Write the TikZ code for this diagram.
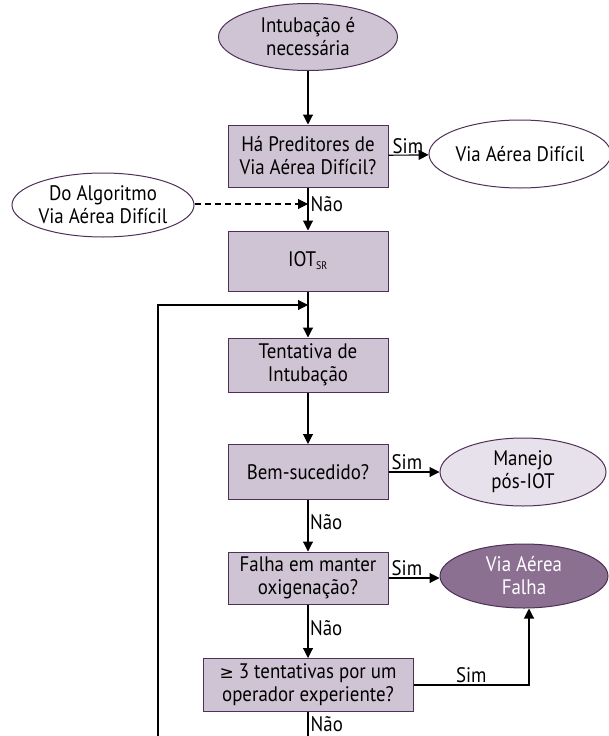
\documentclass[tikz,border=0pt]{standalone}
\usepackage{fontspec}
\setmainfont{PT Sans}[FakeStretch=0.9]
\newfontfamily\symfont{DejaVu Sans}
\usetikzlibrary{arrows.meta,shapes.geometric}
\definecolor{boxfill}{RGB}{207,196,212}
\definecolor{boxline}{RGB}{78,48,88}
\definecolor{lightfill}{RGB}{230,225,234}
\definecolor{failfill}{RGB}{139,112,145}
\begin{document}
\begin{tikzpicture}[x=1pt,y=-1pt,
  font=\fontsize{21}{23}\selectfont,
  stepbox/.style={draw=boxline,fill=boxfill,line width=1pt,align=center,inner sep=0pt},
  oval/.style={ellipse,draw=boxline,line width=1pt,align=center,inner sep=0pt},
  flow/.style={line width=1.1pt,-{Triangle[length=10pt,width=10pt]}},
  lbl/.style={inner sep=1.5pt},
  simlbl/.style={inner sep=1pt,anchor=south west}]
\useasboundingbox (0,0) rectangle (608,736);

% nodes
\node[oval,fill=boxfill,minimum width=179,minimum height=67] (start) at (308,37) {Intubação é\\necessária};
\node[stepbox,minimum width=160,minimum height=62] (pred) at (308,156) {Há Preditores de\\Via Aérea Difícil?};
\node[oval,fill=white,minimum width=170,minimum height=68] (dav) at (520,154) {Via Aérea Difícil};
\node[oval,fill=white,minimum width=180,minimum height=64] (algo) at (103,205) {Do Algoritmo\\Via Aérea Difícil};
\node[stepbox,minimum width=160,minimum height=60] (iot) at (308,261) {IOT\textsubscript{\fontsize{11}{11}\selectfont SR}};
\node[stepbox,minimum width=160,minimum height=54] (try) at (308,365) {Tentativa de\\Intubação};
\node[stepbox,minimum width=160,minimum height=55] (ok) at (308,472) {Bem-sucedido?};
\node[oval,fill=lightfill,minimum width=166,minimum height=68] (post) at (523,472) {Manejo\\pós-IOT};
\node[stepbox,minimum width=160,minimum height=52] (oxy) at (308,578) {Falha em manter\\oxigenação?};
\node[oval,fill=failfill,text=white,minimum width=168,minimum height=64] (fail) at (524,576) {Via Aérea\\Falha};
\node[stepbox,minimum width=210,minimum height=53] (three) at (308,685) {{\symfont\fontsize{17}{17}\selectfont ≥} 3 tentativas por um\\operador experiente?};

% helper points
\coordinate (dashend) at (308,204);
\coordinate (loopin) at (308,305);
\coordinate (loopcorner) at (158,305);
\coordinate (loopbottom) at (158,736);
\coordinate (threeout) at (308,736);
\coordinate (failturn) at (529,685);

% connectors
\draw[flow] (start) -- (pred);
\draw[flow] (pred) -- (dav);
\node[simlbl] (sim1) at ([xshift=3pt,yshift=1pt]pred.east) {Sim};
\draw[flow] (pred) -- (iot);
\draw[flow,dash pattern=on 6pt off 4pt] (algo.east |- dashend) -- (dashend);
\node[lbl,anchor=west] (no1) at (309,204) {Não};
\draw[line width=1.1pt] (iot) -- (loopin);
\draw[flow] (loopin) -- (try);
\draw[flow] (loopbottom) -- (loopcorner) -- (loopin);
\draw[flow] (try) -- (ok);
\draw[flow] (ok) -- (post);
\node[simlbl] (sim2) at ([xshift=2pt,yshift=1pt]ok.east) {Sim};
\draw[flow] (ok) -- node[lbl,right,pos=0.42]{Não} (oxy);
\draw[flow] (oxy) -- (fail.west |- oxy.east);
\node[simlbl] (sim3) at ([xshift=2pt,yshift=1pt]oxy.east) {Sim};
\draw[flow] (oxy) -- node[lbl,right,pos=0.45]{Não} (three);
\draw[flow] (three.east) -- node[lbl,above,pos=0.5]{Sim} (failturn) -- (fail.south -| failturn);
\draw[line width=1.1pt] (three) -- (threeout);
\node[lbl,anchor=west] (no4) at (309,724) {Não};
\end{tikzpicture}
\end{document}
